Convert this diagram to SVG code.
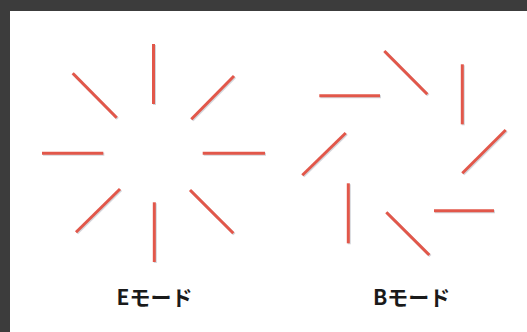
<svg xmlns="http://www.w3.org/2000/svg" xmlns:xlink="http://www.w3.org/1999/xlink" width="527" height="332" viewBox="0 0 527 332">
<style>
.ray{stroke:#e2574a;stroke-width:3;stroke-linecap:butt;fill:none}
.sh{stroke:#c9ccd3;stroke-width:3;fill:none;opacity:0.8}
.lbl{font-family:"Noto Sans CJK JP","Noto Sans",sans-serif;font-weight:bold;font-size:21px;fill:#1a1a1a;text-anchor:middle}
</style>
<rect x="0" y="0" width="527" height="332" fill="#3c3c3c"/>
<rect x="10" y="11" width="517" height="321" fill="#ffffff"/>
<defs>
<g id="eRays">
<line x1="153.5" y1="44" x2="153.5" y2="104"/>
<line x1="234" y1="76" x2="191.3" y2="119.3"/>
<line x1="72.7" y1="73.3" x2="116.7" y2="117.7"/>
<line x1="42" y1="153.3" x2="103.3" y2="153.3"/>
<line x1="202.7" y1="153.3" x2="265" y2="153.3"/>
<line x1="120" y1="189" x2="76" y2="232.3"/>
<line x1="154.3" y1="202.3" x2="154.3" y2="262"/>
<line x1="190" y1="190" x2="233.3" y2="233.3"/>
</g>
<g id="bRays">
<line x1="384.3" y1="51" x2="427.3" y2="94.3"/>
<line x1="462.3" y1="64.3" x2="462.3" y2="124.3"/>
<line x1="319.3" y1="95.7" x2="380" y2="95.7"/>
<line x1="345.7" y1="133" x2="302.3" y2="175.3"/>
<line x1="505.7" y1="130" x2="462.3" y2="173.3"/>
<line x1="348.3" y1="183.3" x2="348.3" y2="243.3"/>
<line x1="434" y1="210.7" x2="494" y2="210.7"/>
<line x1="386.3" y1="212.3" x2="429.3" y2="255"/>
</g>
</defs>
<g id="e-mode">
<use xlink:href="#eRays" class="sh" transform="translate(1,1)"/>
<use xlink:href="#eRays" class="ray"/>
<text class="lbl" x="154.5" y="305">Eモード</text>
</g>
<g id="b-mode">
<use xlink:href="#bRays" class="sh" transform="translate(1,1)"/>
<use xlink:href="#bRays" class="ray"/>
<text class="lbl" x="411.7" y="305">Bモード</text>
</g>
</svg>
